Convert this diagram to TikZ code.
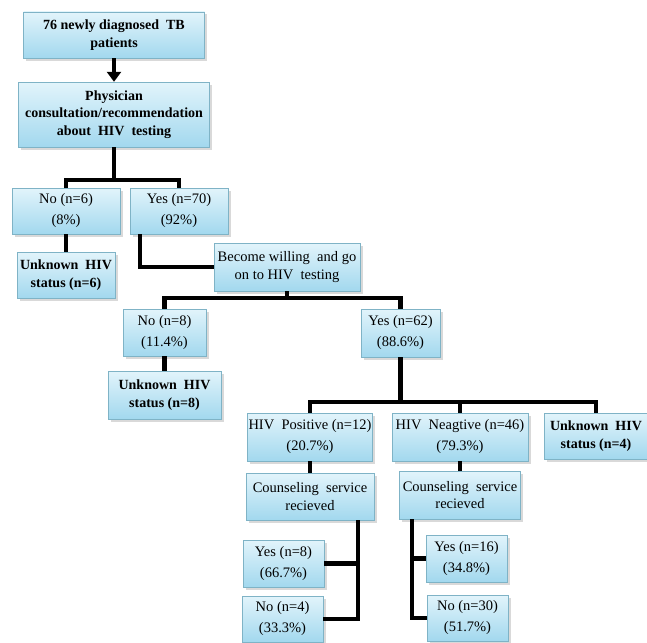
\documentclass[tikz,border=0pt]{standalone}
\usepackage{fontspec}
\setmainfont{Liberation Serif}
\usepackage{xcolor,tikz}
\usetikzlibrary{arrows.meta,shadows}
\definecolor{boxtop}{HTML}{E2F4FB}
\definecolor{boxbot}{HTML}{A2D8EE}
\definecolor{boxline}{HTML}{7FB3C6}

\begin{document}
\begin{tikzpicture}[x=1pt,y=-1pt,
box/.style={draw=boxline,top color=boxtop,bottom color=boxbot,align=center,inner sep=1pt,
  font=\fontsize{14.5}{17.5}\selectfont,drop shadow={shadow xshift=2.5pt,shadow yshift=-2.5pt,opacity=0.3}},
hdr/.style={box,font=\fontsize{14}{17.5}\selectfont\bfseries},
cnt/.style={box,font=\fontsize{14.5}{21}\selectfont},
link/.style={line width=4.5pt,black},
arr/.style={line width=3.5pt,-{Triangle[width=14pt,length=10pt]}}]
\useasboundingbox (0,0) rectangle (647,642);
\node[hdr,minimum width=181pt,minimum height=46pt] (top) at (114,35) {76 newly diagnosed\ \ TB\\patients};
\node[hdr,minimum width=191pt,minimum height=65pt] (phys) at (114,114.5) {Physician\\consultation/recommendation\\about\ \ HIV\ \ testing};
\node[cnt,minimum width=108pt,minimum height=46pt] (no1) at (66,211) {No (n=6)\\(8\%)};
\node[cnt,minimum width=98pt,minimum height=46pt] (yes1) at (179,211) {Yes (n=70)\\(92\%)};
\node[hdr,minimum width=98pt,minimum height=46pt] (unk1) at (66,275) {Unknown\ \ HIV\\status (n=6)};
\node[box,minimum width=146pt,minimum height=48pt] (will) at (287,267) {Become willing\ \ and go\\on to HIV\ \ testing};
\node[cnt,minimum width=83pt,minimum height=47pt] (no2) at (164.5,332.5) {No (n=8)\\(11.4\%)};
\node[cnt,minimum width=79pt,minimum height=48pt] (yes2) at (400.5,333) {Yes (n=62)\\(88.6\%)};
\node[hdr,minimum width=113pt,minimum height=48pt] (unk2) at (164.5,395) {Unknown\ \ HIV\\status (n=8)};
\node[cnt,minimum width=124pt,minimum height=48pt] (pos) at (310,437) {HIV\ \ Positive (n=12)\\(20.7\%)};
\node[cnt,minimum width=136pt,minimum height=48pt] (neg) at (460,437) {HIV\ \ Neagtive (n=46)\\(79.3\%)};
\node[hdr,minimum width=104pt,minimum height=46pt] (unk3) at (596,436) {Unknown\ \ HIV\\status (n=4)};
\node[box,minimum width=128pt,minimum height=47pt] (cou1) at (310,496.5) {Counseling\ \ service\\recieved};
\node[box,minimum width=121pt,minimum height=48pt] (cou2) at (460,495) {Counseling\ \ service\\recieved};
\node[cnt,minimum width=81pt,minimum height=47pt] (yes3) at (283.5,563.5) {Yes (n=8)\\(66.7\%)};
\node[cnt,minimum width=81pt,minimum height=46pt] (no3) at (282.5,619) {No (n=4)\\(33.3\%)};
\node[cnt,minimum width=81pt,minimum height=47pt] (yes4) at (466.5,558.5) {Yes (n=16)\\(34.8\%)};
\node[cnt,minimum width=81pt,minimum height=46pt] (no4) at (467.5,618) {No (n=30)\\(51.7\%)};
% junctions
\coordinate (j1) at (114,180);
\coordinate (y1) at (140,234);
\coordinate (j2) at (287,298);
\coordinate (j3) at (400.5,402);
\coordinate (c1) at (358,520);
\coordinate (c2) at (412,519);
\draw[arr] (top)--(phys);
\draw[link] (phys.south)--(j1); \draw[link] (no1.north) |- (j1) -| (yes1.north);
\draw[link] (no1)--(unk1);
\draw[link] (y1) |- (will.west);
\draw[link] (will.south)--(j2); \draw[link] (no2.north) |- (j2) -| (yes2.north);
\draw[link] (no2)--(unk2);
\draw[link] (yes2.south)--(j3); \draw[link] (pos.north) |- (j3) -| (unk3.north); \draw[link] (neg.north)--(neg.north |- j3);
\draw[link] (pos)--(cou1); \draw[link] (neg)--(cou2);
\draw[link] (c1) |- (no3.east); \draw[link] (yes3.east)--(yes3.east -| c1);
\draw[link] (c2) |- (no4.west); \draw[link] (yes4.west)--(yes4.west -| c2);
\end{tikzpicture}
\end{document}
